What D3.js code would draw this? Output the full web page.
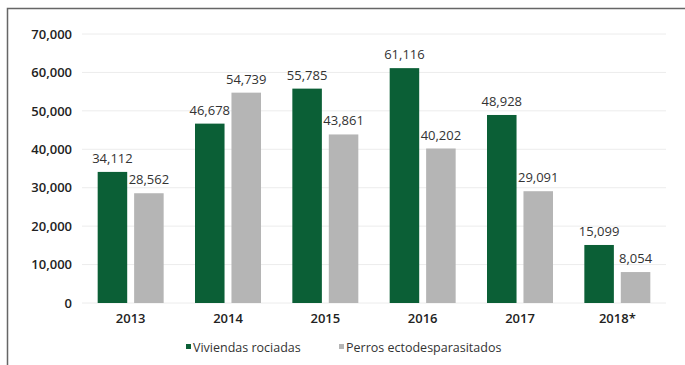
<!DOCTYPE html>
<html>
<head>
<meta charset="utf-8">
<script src="https://cdn.jsdelivr.net/npm/d3@7"></script>
<style>
  html, body { margin: 0; padding: 0; background: #fff; }
  svg { display: block; }
  text { font-family: "Open Sans", "Noto Sans", sans-serif; }
</style>
</head>
<body>
<svg id="chart" width="685" height="365"></svg>
<script>
// Años y series
const years = ["2013", "2014", "2015", "2016", "2017", "2018*"];
const viviendas = [34112, 46678, 55785, 61116, 48928, 15099];
const perros = [28562, 54739, 43861, 40202, 29091, 8054];
const seriesNames = ["Viviendas rociadas", "Perros ectodesparasitados"];
const yTicks = [0, 10000, 20000, 30000, 40000, 50000, 60000, 70000];

const colors = ["#0b5f36", "#b5b5b5"];
const svg = d3.select("#chart");
const W = 685, H = 365;
const m = { left: 82, right: 19, top: 34, bottom: 62 };

// Marco
svg.append("path")
  .attr("d", `M7.5,${H} V8.5 H${W}`)
  .attr("fill", "none").attr("stroke", "#666").attr("stroke-width", 1.5);

const x = d3.scaleBand().domain(years).range([m.left, W - m.right]).paddingInner(0).paddingOuter(0);
const x1 = d3.scaleBand().domain([0, 1]).range([0, x.bandwidth()]).paddingInner(0.19).paddingOuter(0.43);
const y = d3.scaleLinear().domain([0, 70000]).range([H - m.bottom, m.top]);

// Líneas de cuadrícula
svg.append("g").selectAll("line").data(yTicks).join("line")
  .attr("x1", m.left).attr("x2", W - m.right)
  .attr("y1", d => y(d)).attr("y2", d => y(d))
  .attr("stroke", "#ececec").attr("stroke-width", 1);

// Eje Y
const fmt = d3.format(",");
const yAxis = svg.append("g").attr("transform", `translate(${m.left - 10},0)`)
  .call(d3.axisLeft(y).tickValues(yTicks).tickFormat(fmt).tickSize(0).tickPadding(0));
yAxis.select(".domain").remove();
yAxis.selectAll("text").attr("font-size", 13).attr("fill", "#222")
  .attr("font-family", "'Open Sans', sans-serif").attr("font-weight", 600);

// Eje X
const xAxis = svg.append("g").attr("transform", `translate(0,${H - m.bottom})`)
  .call(d3.axisBottom(x).tickSize(0).tickPadding(11));
xAxis.select(".domain").remove();
xAxis.selectAll("text").attr("font-size", 13).attr("fill", "#222")
  .attr("font-family", "'Open Sans', sans-serif").attr("font-weight", 600);

// Barras
const data = years.map((yr, i) => ({ yr, vals: [viviendas[i], perros[i]] }));
const groups = svg.append("g").selectAll("g").data(data).join("g")
  .attr("transform", d => `translate(${x(d.yr)},0)`);

groups.selectAll("rect").data(d => d.vals.map((v, k) => ({ v, k }))).join("rect")
  .attr("x", d => x1(d.k)).attr("width", x1.bandwidth())
  .attr("y", d => y(d.v)).attr("height", d => y(0) - y(d.v))
  .attr("fill", d => colors[d.k]);

groups.selectAll("text.lbl").data(d => d.vals.map((v, k) => ({ v, k }))).join("text")
  .attr("class", "lbl")
  .attr("x", d => x1(d.k) + x1.bandwidth() / 2)
  .attr("y", d => y(d.v) - 9)
  .attr("text-anchor", "middle")
  .attr("font-size", 13).attr("fill", "#333")
  .text(d => fmt(d.v));

// Leyenda
const legend = svg.append("g").attr("transform", `translate(0,${H - 13})`);
const legendX = [186, 339];
seriesNames.forEach((name, i) => {
  legend.append("rect").attr("x", legendX[i]).attr("y", -8).attr("width", 5).attr("height", 5)
    .attr("fill", colors[i]);
  legend.append("text").attr("x", legendX[i] + 7).attr("y", 0)
    .attr("font-size", 12.5).attr("fill", "#333").text(name);
});
</script>
</body>
</html>
